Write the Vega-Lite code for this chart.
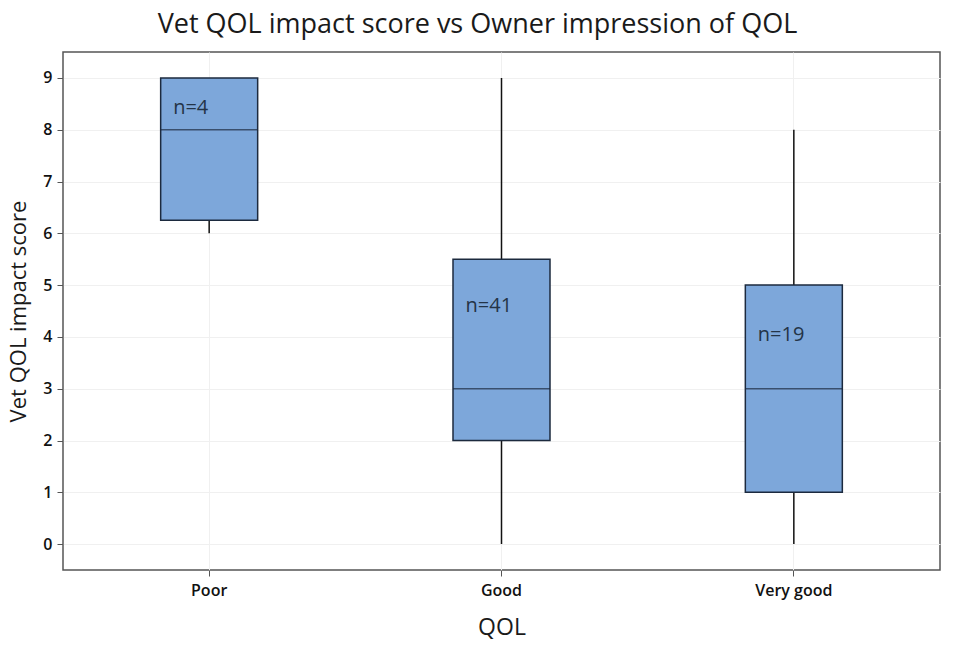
{
  "$schema": "https://vega.github.io/schema/vega-lite/v6.json",
  "description": "Vet QOL impact score by owner impression of QOL, box plots.",
  "autosize": "none",
  "padding": {"left": 63, "top": 52, "right": 17, "bottom": 81},
  "width": 877,
  "height": 518,
  "title": {
    "text": "Vet QOL impact score vs Owner impression of QOL",
    "font": "Open Sans",
    "fontSize": 27,
    "fontWeight": "normal",
    "color": "#1a1a1a",
    "anchor": "middle",
    "dx": -24,
    "offset": 13
  },
  "config": {
    "font": "Open Sans",
    "background": "white",
    "view": {"stroke": "#555555", "strokeWidth": 1.5}
  },
  "data": {
    "values": [
      {"qol": "Poor", "min": 6, "q1": 6.25, "median": 8, "q3": 9, "max": 9, "label": "n=4", "labelY": 8.42},
      {"qol": "Good", "min": 0, "q1": 2, "median": 3, "q3": 5.5, "max": 9, "label": "n=41", "labelY": 4.59},
      {"qol": "Very good", "min": 0, "q1": 1, "median": 3, "q3": 5, "max": 8, "label": "n=19", "labelY": 4.04}
    ]
  },
  "encoding": {
    "x": {
      "field": "qol",
      "type": "nominal",
      "sort": ["Poor", "Good", "Very good"],
      "scale": {"paddingInner": 0, "paddingOuter": 0},
      "axis": {
        "title": "QOL",
        "titleFontSize": 23,
        "titleFontWeight": "normal",
        "titleColor": "#1a1a1a",
        "titlePadding": 18,
        "labelAngle": 0,
        "labelFontSize": 16,
        "labelFontWeight": 600,
        "labelColor": "#111111",
        "labelPadding": 6,
        "domain": false,
        "tickColor": "#555555",
        "tickSize": 6,
        "grid": true,
        "gridColor": "#f0f0f0"
      }
    }
  },
  "layer": [
    {
      "mark": {"type": "rule", "color": "#111111", "strokeWidth": 1.5},
      "encoding": {
        "y": {
          "field": "min",
          "type": "quantitative",
          "scale": {"domain": [-0.5, 9.5], "nice": false, "zero": false},
          "axis": {
            "title": "Vet QOL impact score",
            "titleFontSize": 22,
            "titleFontWeight": "normal",
            "titleColor": "#1a1a1a",
            "titlePadding": 12,
            "values": [0, 1, 2, 3, 4, 5, 6, 7, 8, 9],
            "labelFontSize": 16,
            "labelFontWeight": 600,
            "labelColor": "#111111",
            "labelPadding": 5,
            "domain": false,
            "tickColor": "#555555",
            "tickSize": 6,
            "grid": true,
            "gridColor": "#f0f0f0"
          }
        },
        "y2": {"field": "max"}
      }
    },
    {
      "mark": {"type": "bar", "width": 97, "color": "#7DA7DA", "stroke": "#1c2a3e", "strokeWidth": 1.5},
      "encoding": {
        "y": {"field": "q1", "type": "quantitative"},
        "y2": {"field": "q3"}
      }
    },
    {
      "mark": {"type": "tick", "size": 97, "thickness": 1.5, "color": "#1c2a3e", "orient": "horizontal"},
      "encoding": {
        "y": {"field": "median", "type": "quantitative"}
      }
    },
    {
      "mark": {"type": "text", "align": "left", "baseline": "middle", "dx": -36, "fontSize": 20, "color": "#243447"},
      "encoding": {
        "y": {"field": "labelY", "type": "quantitative"},
        "text": {"field": "label"}
      }
    }
  ]
}
